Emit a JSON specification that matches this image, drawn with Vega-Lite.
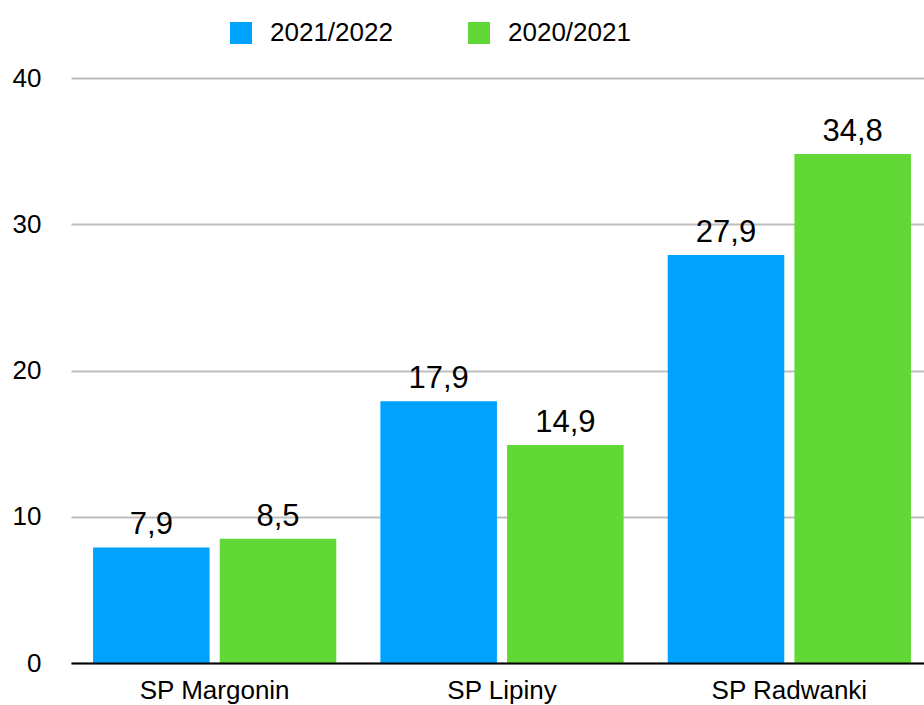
{
  "$schema": "https://vega.github.io/schema/vega-lite/v6.json",
  "width": 862,
  "height": 585,
  "autosize": {"type": "none"},
  "padding": {"left": 71, "top": 78, "right": 0, "bottom": 42},
  "background": "white",
  "config": {
    "view": {"stroke": null},
    "font": "Liberation Sans",
    "locale": {"number": {"decimal": ",", "thousands": " ", "grouping": [3], "currency": ["", " zł"]}}
  },
  "data": {
    "values": [
      {"school": "SP Margonin", "season": "2021/2022", "value": 7.9},
      {"school": "SP Margonin", "season": "2020/2021", "value": 8.5},
      {"school": "SP Lipiny", "season": "2021/2022", "value": 17.9},
      {"school": "SP Lipiny", "season": "2020/2021", "value": 14.9},
      {"school": "SP Radwanki", "season": "2021/2022", "value": 27.9},
      {"school": "SP Radwanki", "season": "2020/2021", "value": 34.8}
    ]
  },
  "encoding": {
    "x": {
      "field": "school",
      "type": "nominal",
      "sort": ["SP Margonin", "SP Lipiny", "SP Radwanki"],
      "scale": {"paddingInner": 0, "paddingOuter": 0},
      "axis": {
        "title": null,
        "labelAngle": 0,
        "labelFontSize": 26,
        "labelColor": "black",
        "labelPadding": 14,
        "ticks": false,
        "domainColor": "black",
        "domainWidth": 2,
        "zindex": 1
      }
    },
    "xOffset": {
      "field": "season",
      "type": "nominal",
      "sort": ["2021/2022", "2020/2021"],
      "scale": {"paddingInner": 0.08, "paddingOuter": 0.174}
    },
    "y": {
      "field": "value",
      "type": "quantitative",
      "scale": {"domain": [0, 40]},
      "axis": {
        "title": null,
        "values": [0, 10, 20, 30, 40],
        "grid": true,
        "gridColor": "#BDBDBD",
        "gridWidth": 2,
        "domain": false,
        "ticks": false,
        "labelFontSize": 26,
        "labelColor": "black",
        "labelPadding": 30
      }
    }
  },
  "layer": [
    {
      "mark": {"type": "bar"},
      "encoding": {
        "color": {
          "field": "season",
          "type": "nominal",
          "scale": {"domain": ["2021/2022", "2020/2021"], "range": ["#00A2FF", "#61D836"]},
          "legend": {
            "title": null,
            "orient": "none",
            "direction": "horizontal",
            "legendX": 157,
            "legendY": -58,
            "symbolType": "square",
            "symbolSize": 484,
            "symbolStrokeWidth": 0,
            "symbolOpacity": 1,
            "labelFontSize": 26,
            "labelColor": "black",
            "labelOffset": 16,
            "columnPadding": 73
          }
        }
      }
    },
    {
      "mark": {"type": "text", "dy": -13, "baseline": "alphabetic", "fontSize": 31, "color": "black"},
      "encoding": {"text": {"field": "value", "type": "quantitative", "format": ".1f"}}
    }
  ]
}
